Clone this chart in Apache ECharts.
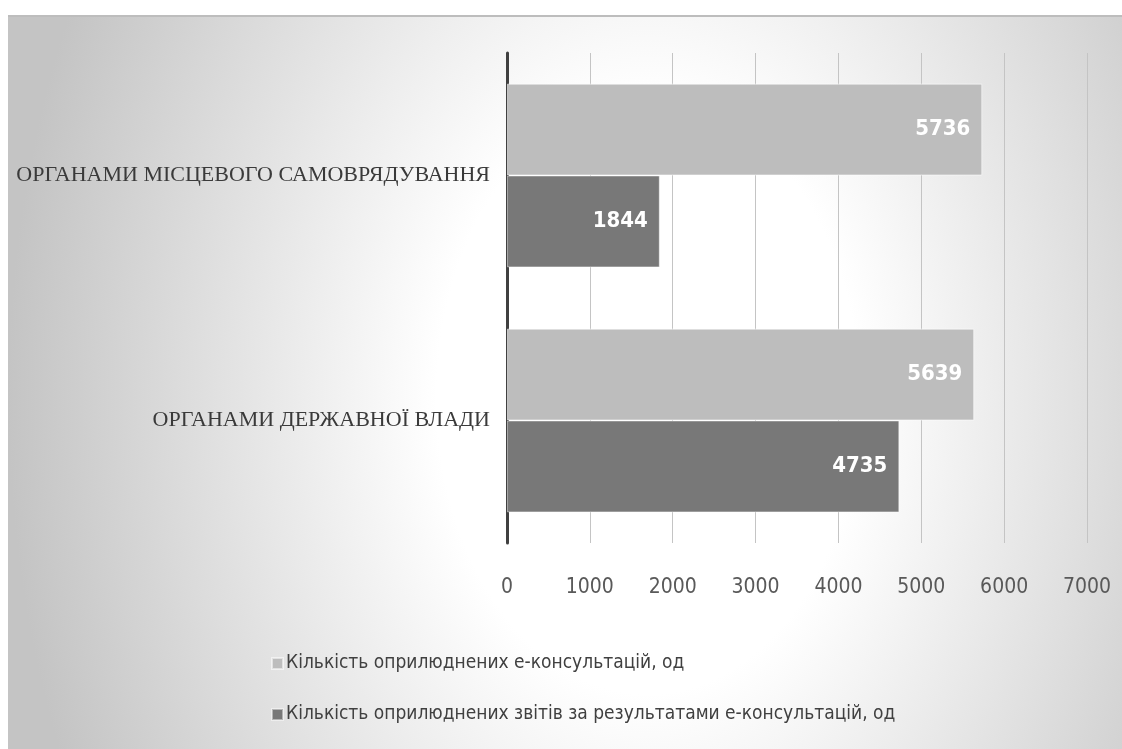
<!DOCTYPE html>
<html>
<head>
<meta charset="utf-8">
<script src="https://cdn.jsdelivr.net/npm/echarts@6/dist/echarts.min.js"></script>
<style>
html,body{margin:0;padding:0;background:#fff;}
#wrap{position:relative;width:1122px;height:749px;overflow:hidden;}
#bg{position:absolute;left:8px;top:15px;width:1114px;height:734px;border-top:2px solid #bdbdbd;box-sizing:border-box;
background:radial-gradient(ellipse 640px 900px at 640px 380px, #ffffff 0%, #ffffff 33%, #c4c4c4 100%);}
#chart{position:absolute;left:0;top:0;width:1122px;height:749px;}
</style>
</head>
<body>
<div id="wrap"><div id="bg"></div><div id="chart"></div></div>
<script>
const categories = ['ОРГАНАМИ ДЕРЖАВНОЇ ВЛАДИ', 'ОРГАНАМИ МІСЦЕВОГО САМОВРЯДУВАННЯ'];
const seriesNames = ['Кількість оприлюднених е-консультацій, од', 'Кількість оприлюднених звітів за результатами е-консультацій, од'];
const consultations = [5639, 5736];
const reports = [4735, 1844];
const xTicks = {min: 0, max: 7000, interval: 1000};

const narrow = "'Liberation Sans Narrow', 'DejaVu Sans Condensed', 'Roboto Condensed', Roboto, sans-serif";
const chart = echarts.init(document.getElementById('chart'), null, {renderer: 'canvas'});
const labelStyle = {
  show: true, position: 'insideRight', distance: 12,
  color: '#ffffff', fontFamily: narrow, fontWeight: 'bold', fontSize: 22
};
chart.setOption({
  backgroundColor: 'transparent',
  animation: false,
  grid: {left: 507, right: 35, top: 53, bottom: 206, containLabel: false},
  legend: {
    orient: 'vertical', left: 266, top: 649, itemGap: 32,
    itemWidth: 11, itemHeight: 11, icon: 'rect',
    data: seriesNames,
    textStyle: {fontFamily: narrow, fontSize: 19, color: '#404040', padding: [0, 0, 0, -2]}
  },
  xAxis: {
    type: 'value', min: xTicks.min, max: xTicks.max, interval: xTicks.interval,
    axisLine: {show: false}, axisTick: {show: false},
    splitLine: {lineStyle: {color: '#c4c4c4', width: 1}},
    axisLabel: {margin: 34, fontFamily: narrow, fontSize: 21, color: '#595959', formatter: v => String(v)}
  },
  yAxis: {
    type: 'category', data: categories,
    axisLine: {show: true, lineStyle: {color: '#404040', width: 3}},
    axisTick: {show: false},
    axisLabel: {margin: 17, fontFamily: 'Liberation Serif', fontSize: 22, color: '#3a3a3a'}
  },
  series: [
    {
      name: seriesNames[0], type: 'bar', data: consultations,
      barGap: '0%', barCategoryGap: '25%',
      itemStyle: {color: '#bdbdbd', borderColor: 'rgba(255,255,255,0.55)', borderWidth: 1},
      label: labelStyle, z: 2
    },
    {
      name: seriesNames[1], type: 'bar', data: reports,
      barGap: '0%', barCategoryGap: '25%',
      itemStyle: {color: '#787878', borderColor: 'rgba(255,255,255,0.45)', borderWidth: 1},
      label: labelStyle, z: 2
    }
  ]
});
</script>
</body>
</html>
